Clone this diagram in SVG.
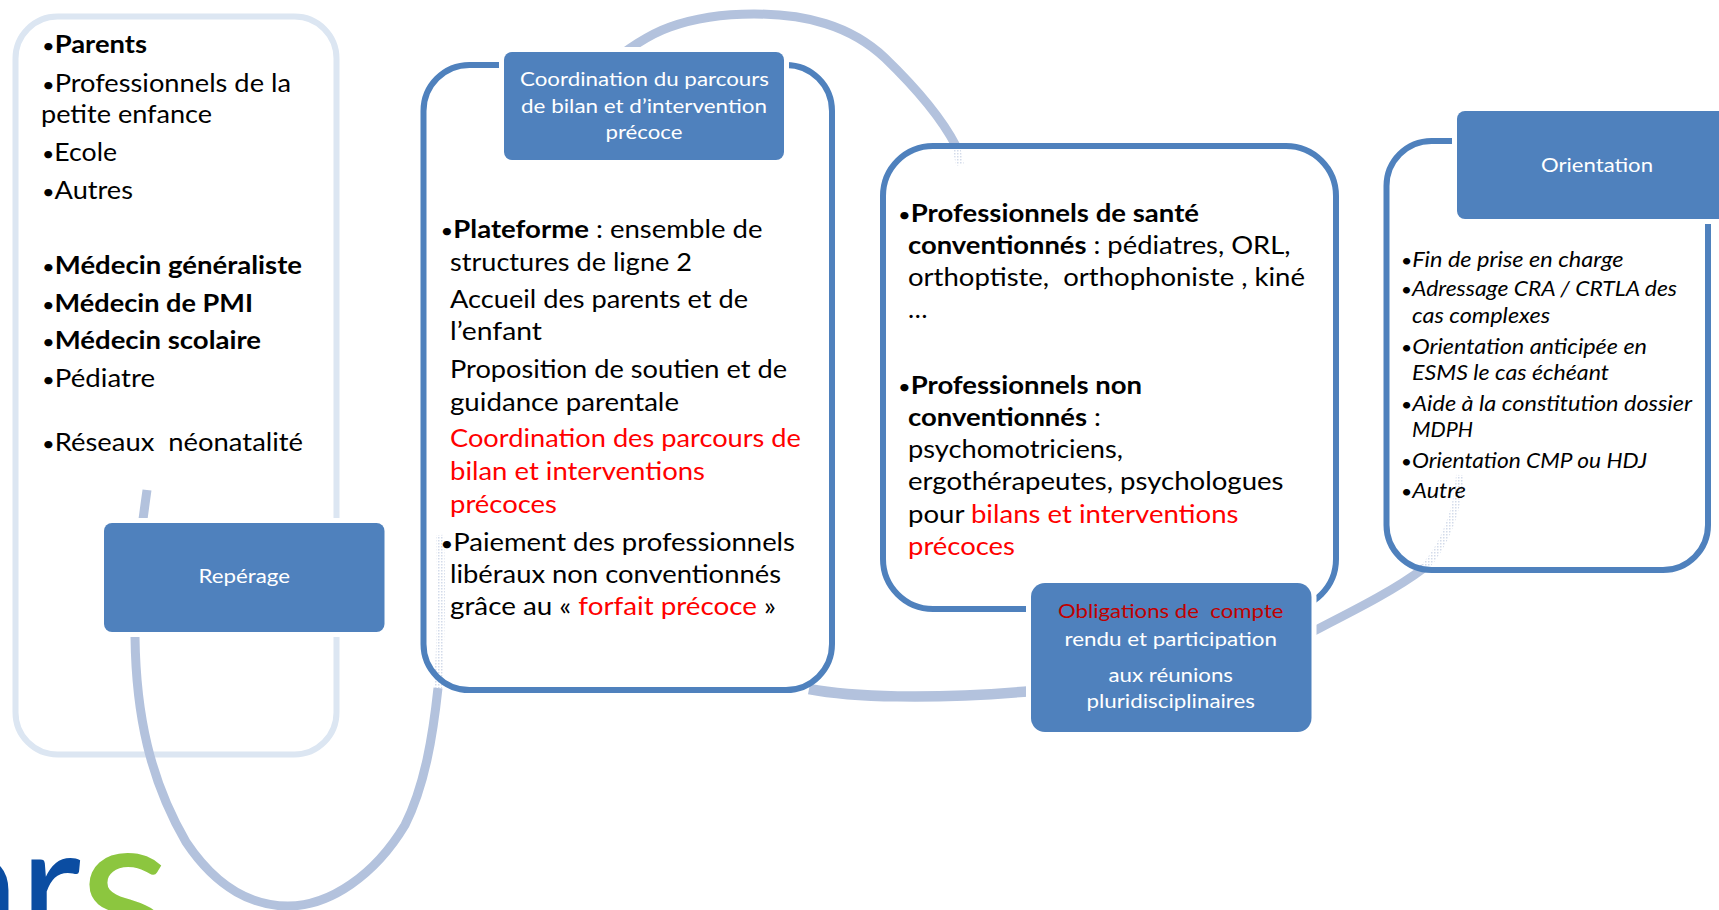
<svg xmlns="http://www.w3.org/2000/svg" width="1719" height="910" viewBox="0 0 1719 910">
<style>
text{font-family:"Lato","Liberation Sans",sans-serif;white-space:pre}
.t{font-size:25px;fill:#000}
.i{font-size:20.500px;fill:#000;font-style:italic}
.h{font-size:19.500px;fill:#fff}
.b{font-weight:700}
.r{fill:#f00}
.u{font-size:20px}
.v{font-size:17px}
.ring{fill:none;stroke:#4f81bd;stroke-width:6}
.pale{fill:none;stroke:#dce6f2;stroke-width:6}
.head{fill:#4f81bd;stroke:#fff;stroke-width:10;paint-order:stroke}
.arc{fill:none;stroke:#b3c2dd;stroke-width:9}
.dot{fill:none;stroke:url(#dots);stroke-width:8}
</style>
<defs>
<pattern id="dots" width="3" height="3" patternUnits="userSpaceOnUse"><rect width="1.500" height="1.500" fill="#d3dbea"/></pattern>
</defs>
<rect width="1719" height="910" fill="#fff"/>
<g id="logo">
<text x="-65" y="946" font-size="170"><tspan fill="#0b4da2">ar</tspan><tspan fill="#8cc63f" font-size="212" dy="16" dx="-2">s</tspan></text>
</g>
<g id="node-reperage-frame"><rect class="pale" x="15.500" y="16.500" width="321" height="738" rx="42" ry="42"/></g>
<g id="connectors">
<path class="arc" d="M147 490C140 540 133 590 135 637C136 715 150 780 186 842C218 890 255 906 288 906C330 906 375 875 405 825C425 785 433 735 438 688"/>
<path class="dot" d="M438 688C441 640 442 590 440 535"/>
<path class="arc" d="M605 68C625 50 650 34 670 27C695 18 725 14 754 14C805 14 850 25 885 58C915 87 940 115 956 146"/>
<path class="dot" d="M956 146L960 165"/>
<path class="arc" style="stroke-width:10.500" d="M809 689C850 697 930 700 1032 691"/>
<path class="arc" d="M1312 632C1355 610 1395 590 1424 568"/>
<path class="dot" d="M1424 568C1445 545 1458 510 1460 475"/>
</g>
<g id="node-reperage">
<rect class="head" x="104" y="523" width="280.500" height="109" rx="8"/>
<text class="h" x="198.500" y="583" textLength="91.500" lengthAdjust="spacingAndGlyphs">Repérage</text>
</g>
<g id="reperage-list">
<text class="t" x="42" y="53" textLength="105" lengthAdjust="spacingAndGlyphs"><tspan class="u">•</tspan><tspan class="b">Parents</tspan></text>
<text class="t" x="42" y="92" textLength="249" lengthAdjust="spacingAndGlyphs"><tspan class="u">•</tspan>Professionnels de la</text>
<text class="t" x="41" y="123" textLength="171" lengthAdjust="spacingAndGlyphs">petite enfance</text>
<text class="t" x="42" y="161" textLength="75" lengthAdjust="spacingAndGlyphs"><tspan class="u">•</tspan>Ecole</text>
<text class="t" x="42" y="199" textLength="91" lengthAdjust="spacingAndGlyphs"><tspan class="u">•</tspan>Autres</text>
<text class="t" x="42" y="274" textLength="260" lengthAdjust="spacingAndGlyphs"><tspan class="u">•</tspan><tspan class="b">Médecin généraliste</tspan></text>
<text class="t" x="42" y="312" textLength="211" lengthAdjust="spacingAndGlyphs"><tspan class="u">•</tspan><tspan class="b">Médecin de PMI</tspan></text>
<text class="t" x="42" y="349" textLength="219" lengthAdjust="spacingAndGlyphs"><tspan class="u">•</tspan><tspan class="b">Médecin scolaire</tspan></text>
<text class="t" x="42" y="387" textLength="113" lengthAdjust="spacingAndGlyphs"><tspan class="u">•</tspan>Pédiatre</text>
<text class="t" x="42" y="451" textLength="261" lengthAdjust="spacingAndGlyphs"><tspan class="u">•</tspan>Réseaux  néonatalité</text>
</g>
<g id="node-coordination">
<rect class="ring" x="423.500" y="65" width="408.500" height="625" rx="46" ry="46"/>
<rect class="head" x="504" y="52" width="280" height="108" rx="8"/>
<text class="h" x="520" y="86" textLength="249" lengthAdjust="spacingAndGlyphs">Coordination du parcours</text>
<text class="h" x="521" y="113" textLength="246" lengthAdjust="spacingAndGlyphs">de bilan et d’intervention</text>
<text class="h" x="605.500" y="139" textLength="77" lengthAdjust="spacingAndGlyphs">précoce</text>
<text class="t" x="440.500" y="238" textLength="322" lengthAdjust="spacingAndGlyphs"><tspan class="u">•</tspan><tspan class="b">Plateforme</tspan> : ensemble de</text>
<text class="t" x="450" y="271" textLength="242" lengthAdjust="spacingAndGlyphs">structures de ligne 2</text>
<text class="t" x="450" y="308" textLength="298" lengthAdjust="spacingAndGlyphs">Accueil des parents et de</text>
<text class="t" x="450" y="340" textLength="92" lengthAdjust="spacingAndGlyphs">l’enfant</text>
<text class="t" x="450" y="378" textLength="337" lengthAdjust="spacingAndGlyphs">Proposition de soutien et de</text>
<text class="t" x="450" y="411" textLength="229" lengthAdjust="spacingAndGlyphs">guidance parentale</text>
<text class="t r" x="450" y="447" textLength="351" lengthAdjust="spacingAndGlyphs">Coordination des parcours de</text>
<text class="t r" x="450" y="480" textLength="255" lengthAdjust="spacingAndGlyphs">bilan et interventions</text>
<text class="t r" x="450" y="513" textLength="107" lengthAdjust="spacingAndGlyphs">précoces</text>
<text class="t" x="440.500" y="551" textLength="354.500" lengthAdjust="spacingAndGlyphs"><tspan class="u">•</tspan>Paiement des professionnels</text>
<text class="t" x="450" y="583" textLength="331" lengthAdjust="spacingAndGlyphs">libéraux non conventionnés</text>
<text class="t" x="450" y="615" textLength="326" lengthAdjust="spacingAndGlyphs">grâce au « <tspan class="r">forfait précoce</tspan> »</text>
</g>
<g id="node-professionnels">
<rect class="ring" x="883" y="146" width="453" height="463" rx="50" ry="50"/>
<text class="t" x="898" y="222" textLength="301" lengthAdjust="spacingAndGlyphs"><tspan class="u">•</tspan><tspan class="b">Professionnels de santé</tspan></text>
<text class="t" x="908" y="254" textLength="382.500" lengthAdjust="spacingAndGlyphs"><tspan class="b">conventionnés</tspan> : pédiatres, ORL,</text>
<text class="t" x="908" y="286" textLength="397" lengthAdjust="spacingAndGlyphs">orthoptiste,  orthophoniste , kiné</text>
<text class="t" x="908" y="318" textLength="19.500" lengthAdjust="spacingAndGlyphs">…</text>
<text class="t" x="898" y="394" textLength="244" lengthAdjust="spacingAndGlyphs"><tspan class="u">•</tspan><tspan class="b">Professionnels non</tspan></text>
<text class="t" x="908" y="426" textLength="193" lengthAdjust="spacingAndGlyphs"><tspan class="b">conventionnés</tspan> :</text>
<text class="t" x="908" y="458" textLength="215" lengthAdjust="spacingAndGlyphs">psychomotriciens,</text>
<text class="t" x="908" y="490" textLength="375.500" lengthAdjust="spacingAndGlyphs">ergothérapeutes, psychologues</text>
<text class="t" x="908" y="523" textLength="330.500" lengthAdjust="spacingAndGlyphs">pour <tspan class="r">bilans et interventions</tspan></text>
<text class="t r" x="908" y="555" textLength="107" lengthAdjust="spacingAndGlyphs">précoces</text>
</g>
<g id="node-obligations">
<rect class="head" x="1031" y="583" width="280.500" height="149" rx="14"/>
<text class="h" x="1058" y="618" textLength="225.500" lengthAdjust="spacingAndGlyphs" style="fill:#c00000">Obligations de  compte</text>
<text class="h" x="1064.500" y="646" textLength="212.500" lengthAdjust="spacingAndGlyphs">rendu et participation</text>
<text class="h" x="1108.500" y="682" textLength="124.500" lengthAdjust="spacingAndGlyphs">aux réunions</text>
<text class="h" x="1086.500" y="708" textLength="168.500" lengthAdjust="spacingAndGlyphs">pluridisciplinaires</text>
</g>
<g id="node-orientation">
<rect class="ring" x="1386.500" y="141" width="321.500" height="429" rx="45" ry="45"/>
<rect class="head" x="1457" y="111" width="290" height="108" rx="8"/>
<text class="h" x="1541" y="172" textLength="112" lengthAdjust="spacingAndGlyphs">Orientation</text>
<text class="i" x="1401" y="267" textLength="222.500" lengthAdjust="spacingAndGlyphs"><tspan class="v">•</tspan>Fin de prise en charge</text>
<text class="i" x="1401" y="296" textLength="276" lengthAdjust="spacingAndGlyphs"><tspan class="v">•</tspan>Adressage CRA / CRTLA des</text>
<text class="i" x="1412" y="323" textLength="138" lengthAdjust="spacingAndGlyphs">cas complexes</text>
<text class="i" x="1401" y="354" textLength="246" lengthAdjust="spacingAndGlyphs"><tspan class="v">•</tspan>Orientation anticipée en</text>
<text class="i" x="1412" y="380" textLength="197" lengthAdjust="spacingAndGlyphs">ESMS le cas échéant</text>
<text class="i" x="1401" y="411" textLength="291" lengthAdjust="spacingAndGlyphs"><tspan class="v">•</tspan>Aide à la constitution dossier</text>
<text class="i" x="1412" y="437" textLength="61" lengthAdjust="spacingAndGlyphs">MDPH</text>
<text class="i" x="1401" y="468" textLength="246" lengthAdjust="spacingAndGlyphs"><tspan class="v">•</tspan>Orientation CMP ou HDJ</text>
<text class="i" x="1401" y="498" textLength="65" lengthAdjust="spacingAndGlyphs"><tspan class="v">•</tspan>Autre</text>
</g>
</svg>
